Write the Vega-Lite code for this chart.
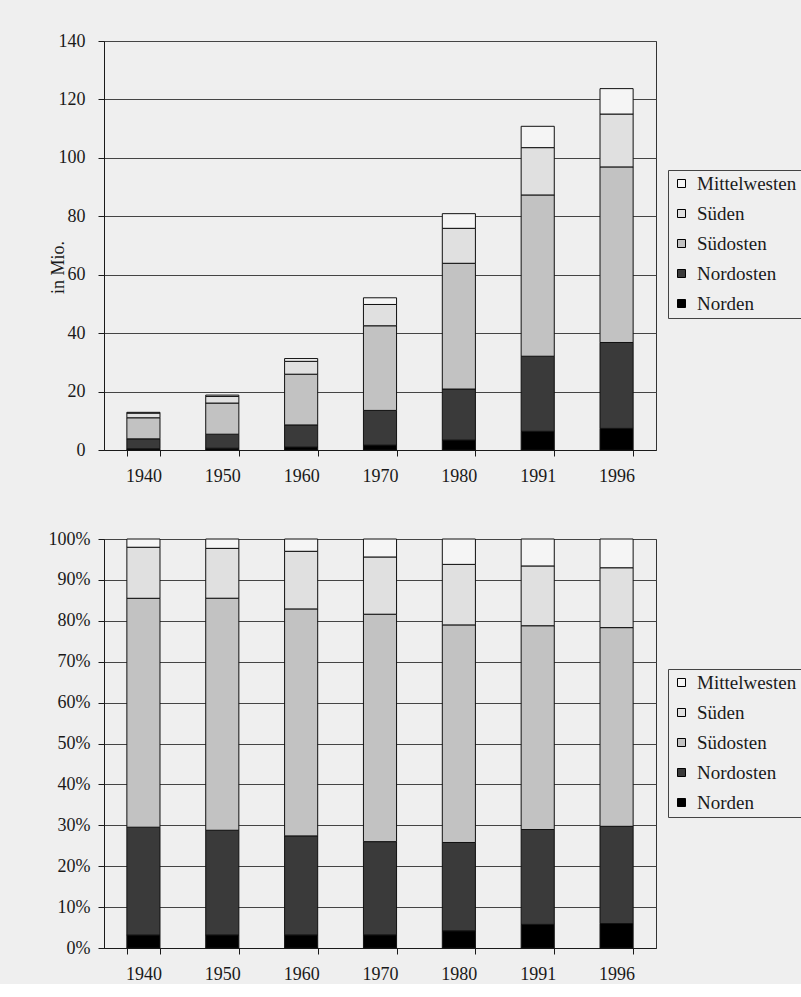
{
  "$schema": "https://vega.github.io/schema/vega-lite/v6.json",
  "background": "#efefef",
  "padding": {"top": 31, "left": 47, "right": 0, "bottom": 0},
  "datasets": {
    "urban": [
      {"Jahr": "1940", "Region": "Norden", "Mio": 0.41},
      {"Jahr": "1940", "Region": "Nordosten", "Mio": 3.40},
      {"Jahr": "1940", "Region": "Südosten", "Mio": 7.22},
      {"Jahr": "1940", "Region": "Süden", "Mio": 1.61},
      {"Jahr": "1940", "Region": "Mittelwesten", "Mio": 0.26},
      {"Jahr": "1950", "Region": "Norden", "Mio": 0.60},
      {"Jahr": "1950", "Region": "Nordosten", "Mio": 4.81},
      {"Jahr": "1950", "Region": "Südosten", "Mio": 10.66},
      {"Jahr": "1950", "Region": "Süden", "Mio": 2.29},
      {"Jahr": "1950", "Region": "Mittelwesten", "Mio": 0.43},
      {"Jahr": "1960", "Region": "Norden", "Mio": 1.00},
      {"Jahr": "1960", "Region": "Nordosten", "Mio": 7.58},
      {"Jahr": "1960", "Region": "Südosten", "Mio": 17.37},
      {"Jahr": "1960", "Region": "Süden", "Mio": 4.41},
      {"Jahr": "1960", "Region": "Mittelwesten", "Mio": 0.94},
      {"Jahr": "1970", "Region": "Norden", "Mio": 1.67},
      {"Jahr": "1970", "Region": "Nordosten", "Mio": 11.88},
      {"Jahr": "1970", "Region": "Südosten", "Mio": 28.97},
      {"Jahr": "1970", "Region": "Süden", "Mio": 7.29},
      {"Jahr": "1970", "Region": "Mittelwesten", "Mio": 2.29},
      {"Jahr": "1980", "Region": "Norden", "Mio": 3.40},
      {"Jahr": "1980", "Region": "Nordosten", "Mio": 17.47},
      {"Jahr": "1980", "Region": "Südosten", "Mio": 43.04},
      {"Jahr": "1980", "Region": "Süden", "Mio": 11.97},
      {"Jahr": "1980", "Region": "Mittelwesten", "Mio": 5.02},
      {"Jahr": "1991", "Region": "Norden", "Mio": 6.40},
      {"Jahr": "1991", "Region": "Nordosten", "Mio": 25.70},
      {"Jahr": "1991", "Region": "Südosten", "Mio": 55.20},
      {"Jahr": "1991", "Region": "Süden", "Mio": 16.20},
      {"Jahr": "1991", "Region": "Mittelwesten", "Mio": 7.30},
      {"Jahr": "1996", "Region": "Norden", "Mio": 7.40},
      {"Jahr": "1996", "Region": "Nordosten", "Mio": 29.40},
      {"Jahr": "1996", "Region": "Südosten", "Mio": 60.10},
      {"Jahr": "1996", "Region": "Süden", "Mio": 18.10},
      {"Jahr": "1996", "Region": "Mittelwesten", "Mio": 8.70}
    ]
  },
  "config": {
    "font": "Liberation Serif",
    "view": {"stroke": "#333333", "strokeWidth": 1},
    "axis": {
      "labelFont": "Liberation Serif",
      "labelFontSize": 18,
      "labelColor": "#1a1a1a",
      "domainColor": "#1a1a1a",
      "tickColor": "#1a1a1a",
      "gridColor": "#444444",
      "gridWidth": 1,
      "gridOpacity": 1,
      "titleFont": "Liberation Serif",
      "titleFontWeight": "normal",
      "titleFontSize": 18,
      "titleColor": "#1a1a1a"
    },
    "legend": {
      "labelFont": "Liberation Serif",
      "labelFontSize": 19,
      "labelColor": "#1a1a1a",
      "symbolType": "square",
      "symbolSize": 64,
      "symbolStrokeColor": "#000000",
      "symbolStrokeWidth": 1,
      "strokeColor": "#444444",
      "padding": 4,
      "rowPadding": 10,
      "labelOffset": 6
    }
  },
  "spacing": 43,
  "resolve": {
    "scale": {"y": "independent", "color": "independent"},
    "legend": {"color": "independent"}
  },
  "vconcat": [
    {
      "width": 552,
      "height": 409,
      "data": {"name": "urban"},
      "transform": [
        {"calculate": "indexof(['Norden','Nordosten','Südosten','Süden','Mittelwesten'], datum.Region)", "as": "rank"}
      ],
      "mark": {"type": "bar", "stroke": "#111111", "strokeWidth": 1},
      "encoding": {
        "x": {
          "field": "Jahr", "type": "ordinal",
          "scale": {"paddingInner": 0.58, "paddingOuter": 0.29},
          "axis": {"title": null, "labelAngle": 0, "tickBand": "extent", "grid": false, "tickSize": 6, "labelPadding": 11}
        },
        "y": {
          "field": "Mio", "type": "quantitative", "stack": "zero",
          "scale": {"domain": [0, 140], "nice": false},
          "axis": {
            "values": [0, 20, 40, 60, 80, 100, 120, 140],
            "title": "in Mio.", "grid": true, "tickSize": 6, "labelPadding": 13,
            "titleAngle": -90, "titleX": -46, "titleY": 226, "titleAlign": "center", "titleBaseline": "middle"
          }
        },
        "color": {
          "field": "Region", "type": "nominal",
          "scale": {
            "domain": ["Mittelwesten", "Süden", "Südosten", "Nordosten", "Norden"],
            "range": ["#f5f5f5", "#e0e0e0", "#c2c2c2", "#3a3a3a", "#000000"]
          },
          "legend": {"title": null, "orient": "none", "legendX": 564, "legendY": 129}
        },
        "order": {"field": "rank", "type": "quantitative"}
      }
    },
    {
      "width": 552,
      "height": 409,
      "data": {"name": "urban"},
      "transform": [
        {"calculate": "indexof(['Norden','Nordosten','Südosten','Süden','Mittelwesten'], datum.Region)", "as": "rank"}
      ],
      "mark": {"type": "bar", "stroke": "#111111", "strokeWidth": 1},
      "encoding": {
        "x": {
          "field": "Jahr", "type": "ordinal",
          "scale": {"paddingInner": 0.58, "paddingOuter": 0.29},
          "axis": {"title": null, "labelAngle": 0, "tickBand": "extent", "grid": false, "tickSize": 6, "labelPadding": 11}
        },
        "y": {
          "field": "Mio", "type": "quantitative", "stack": "normalize",
          "scale": {"domain": [0, 1], "nice": false},
          "axis": {
            "values": [0, 0.1, 0.2, 0.3, 0.4, 0.5, 0.6, 0.7, 0.8, 0.9, 1],
            "format": ".0%", "title": null, "grid": true, "tickSize": 6, "labelPadding": 8
          }
        },
        "color": {
          "field": "Region", "type": "nominal",
          "scale": {
            "domain": ["Mittelwesten", "Süden", "Südosten", "Nordosten", "Norden"],
            "range": ["#f5f5f5", "#e0e0e0", "#c2c2c2", "#3a3a3a", "#000000"]
          },
          "legend": {"title": null, "orient": "none", "legendX": 564, "legendY": 130}
        },
        "order": {"field": "rank", "type": "quantitative"}
      }
    }
  ]
}
